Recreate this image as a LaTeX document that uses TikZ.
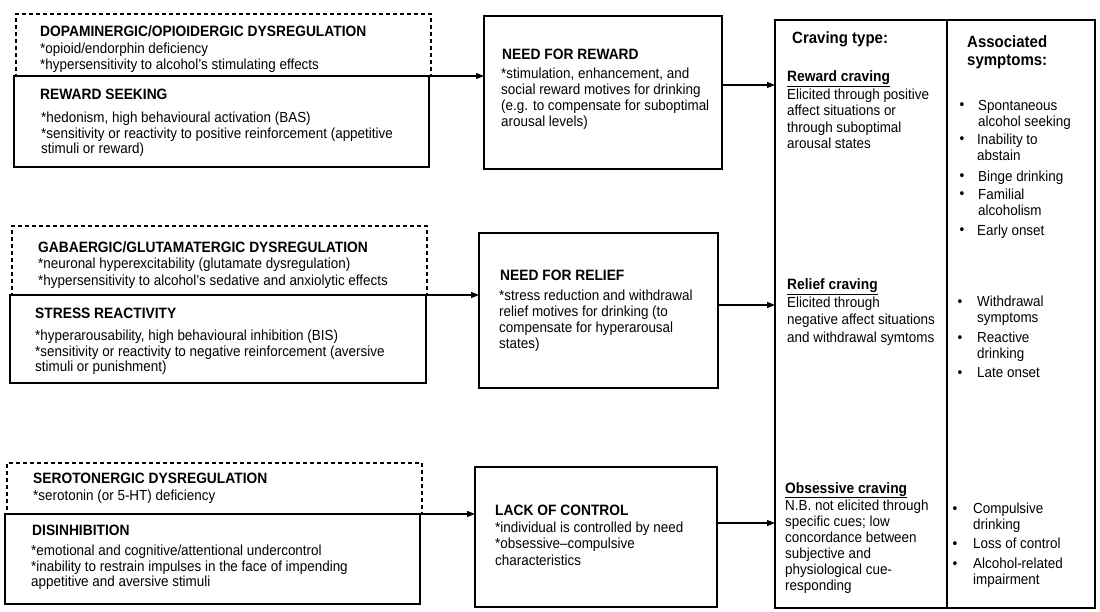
\documentclass[tikz,border=0pt]{standalone}
\usepackage{fontspec}
\setmainfont[FakeStretch=0.92]{Liberation Sans}
\usetikzlibrary{arrows.meta}
\tikzset{
  sbox/.style={draw, line width=1.2pt, anchor=north west, inner sep=0pt, outer sep=0pt},
  dbox/.style={draw, line width=1.1pt, dash pattern=on 4pt off 3pt, anchor=north west, inner sep=0pt, outer sep=0pt},
  hdr/.style={anchor=base west, inner sep=0pt, font=\fontsize{15}{16}\selectfont\bfseries},
  body/.style={anchor=north west, inner sep=0pt, align=left, font=\fontsize{14.6}{#1}\selectfont},
  big/.style={anchor=north west, inner sep=0pt, align=left, font=\fontsize{16.3}{18}\selectfont\bfseries},
  bul/.style={anchor=base, inner sep=0pt, font=\fontsize{14.6}{16}\selectfont},
  arr/.style={line width=1.2pt, -{Triangle[length=8pt,width=6pt]}},
}
\begin{document}
\begin{tikzpicture}[x=1pt,y=-1pt]
\useasboundingbox (0,0) rectangle (1100,612);

% ---------- left column: boxes ----------
\node[dbox, minimum width=415pt, minimum height=62pt] (dd) at (16,14) {};
\node[sbox, minimum width=415pt, minimum height=91pt] (rs) at (14,76) {};
\node[dbox, minimum width=415pt, minimum height=69pt] (gd) at (12,226) {};
\node[sbox, minimum width=416pt, minimum height=88pt] (sr) at (10,295) {};
\node[dbox, minimum width=415pt, minimum height=51pt] (sd) at (7,463) {};
\node[sbox, minimum width=415pt, minimum height=90pt] (di) at (5,514) {};

% ---------- middle column ----------
\node[sbox, minimum width=238pt, minimum height=153pt] (nr) at (484,16) {};
\node[sbox, minimum width=239pt, minimum height=155pt] (nl) at (479,233) {};
\node[sbox, minimum width=242pt, minimum height=140pt] (lc) at (475,467) {};

% ---------- right table ----------
\node[sbox, minimum width=320pt, minimum height=588pt] (rb) at (775,20) {};
\draw[line width=1.2pt] ([xshift=172pt]rb.north west) -- ([xshift=172pt]rb.south west);

% ---------- texts left ----------
\node[hdr] (t1) at (40,37) {DOPAMINERGIC/OPIOIDERGIC DYSREGULATION};
\node[body=16.5] (t1b) at (40,41.5) {\strut*opioid/endorphin deficiency\\*hypersensitivity to alcohol's stimulating effects};
\node[hdr] (t2) at (40,100) {REWARD SEEKING};
\node[body=15] (t2b) at (41,111.5) {\strut*hedonism, high behavioural activation (BAS)\\*sensitivity or reactivity to positive reinforcement (appetitive\\stimuli or reward)};

\node[hdr] (t3) at (38,253) {GABAERGIC/GLUTAMATERGIC DYSREGULATION};
\node[body=17] (t3b) at (38,256.1) {\strut*neuronal hyperexcitability (glutamate dysregulation)\\*hypersensitivity to alcohol's sedative and anxiolytic effects};
\node[hdr] (t4) at (35,318) {STRESS REACTIVITY};
\node[body=15] (t4b) at (35,329.5) {\strut*hyperarousability, high behavioural inhibition (BIS)\\*sensitivity or reactivity to negative reinforcement (aversive\\stimuli or punishment)};

\node[hdr] (t5) at (33,483) {SEROTONERGIC DYSREGULATION};
\node[body=16] (t5b) at (33,488.8) {\strut*serotonin (or 5-HT) deficiency};
\node[hdr] (t6) at (32,535) {DISINHIBITION};
\node[body=15] (t6b) at (31,544.5) {\strut*emotional and cognitive/attentional undercontrol\\*inability to restrain impulses in the face of impending\\appetitive and aversive stimuli};

% ---------- texts middle ----------
\node[hdr] (m1) at (502,60) {NEED FOR REWARD};
\node[body=16] (m1b) at (501,66.8) {\strut*stimulation, enhancement, and\\social reward motives for drinking\\(e.g. to compensate for suboptimal\\arousal levels)};
\node[hdr] (m2) at (500,281) {NEED FOR RELIEF};
\node[body=16] (m2b) at (499,288.8) {\strut*stress reduction and withdrawal\\relief motives for drinking (to\\compensate for hyperarousal\\states)};
\node[hdr] (m3) at (495,515) {LACK OF CONTROL};
\node[body=16.5] (m3b) at (495,520.5) {\strut*individual is controlled by need\\*obsessive--compulsive\\characteristics};

% ---------- texts right ----------
\node[anchor=base west, inner sep=0pt, font=\fontsize{16.3}{18}\selectfont\bfseries] (ct) at (792,43.4) {Craving type:};
\node[big] (as) at (967,34.8) {\strut Associated\\symptoms:};

\node[hdr] (c1) at (787,82) {\underline{Reward craving}};
\node[body=16.5] (c1b) at (787,87.45) {\strut Elicited through positive\\affect situations or\\through suboptimal\\arousal states};
\node[hdr] (c2) at (787,290) {\underline{Relief craving}};
\node[body=17.5] (c2b) at (787,294.75) {\strut Elicited through\\negative affect situations\\and withdrawal symtoms};
\node[hdr] (c3) at (785,493) {\underline{Obsessive craving}};
\node[body=16] (c3b) at (785,498.8) {\strut N.B. not elicited through\\specific cues; low\\concordance between\\subjective and\\physiological cue-\\responding};

% bullets
\node[bul] (b1) at (962,110) {\textbullet};
\node[body=16.5] (s1) at (978,98.45) {\strut Spontaneous\\alcohol seeking};
\node[bul] (b2) at (962,144) {\textbullet};
\node[body=16.5] (s2) at (977,132.45) {\strut Inability to\\abstain};
\node[bul] (b3) at (962,181) {\textbullet};
\node[body=16.5] (s3) at (978,169.45) {\strut Binge drinking};
\node[bul] (b4) at (962,199) {\textbullet};
\node[body=16.5] (s4) at (978,187.45) {\strut Familial\\alcoholism};
\node[bul] (b5) at (962,235) {\textbullet};
\node[body=16.5] (s5) at (977,223.45) {\strut Early onset};

\node[bul] (b6) at (960,306) {\textbullet};
\node[body=16.5] (s6) at (977,294.45) {\strut Withdrawal\\symptoms};
\node[bul] (b7) at (960,342) {\textbullet};
\node[body=16.5] (s7) at (977,330.45) {\strut Reactive\\drinking};
\node[bul] (b8) at (960,377) {\textbullet};
\node[body=16.5] (s8) at (977,365.45) {\strut Late onset};

\node[bul] (b9) at (955,513) {\textbullet};
\node[body=16.5] (s9) at (973,501.45) {\strut Compulsive\\drinking};
\node[bul] (b10) at (955,548) {\textbullet};
\node[body=16.5] (s10) at (973,536.45) {\strut Loss of control};
\node[bul] (b11) at (955,568) {\textbullet};
\node[body=16.5] (s11) at (973,556.45) {\strut Alcohol-related\\impairment};

% ---------- connectors ----------
\draw[arr] (rs.north east) -- (rs.north east -| nr.west);
\draw[arr] (sr.north east) -- (sr.north east -| nl.west);
\draw[arr] (di.north east) -- (di.north east -| lc.west);
\draw[arr] ([yshift=7.5pt]nr.east) -- ([yshift=7.5pt]nr.east -| rb.west);
\draw[arr] ([yshift=5.5pt]nl.east) -- ([yshift=5.5pt]nl.east -| rb.west);
\draw[arr] ([yshift=14pt]lc.east) -- ([yshift=14pt]lc.east -| rb.west);
\end{tikzpicture}
\end{document}
